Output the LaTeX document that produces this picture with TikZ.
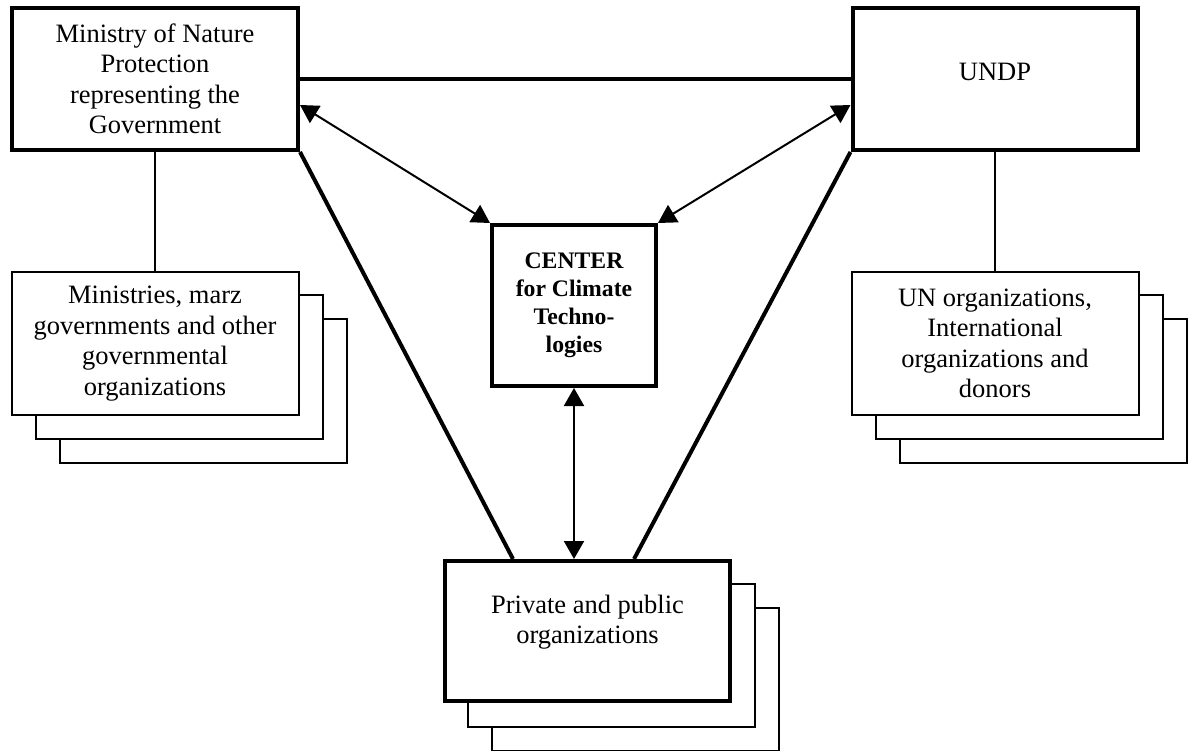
\documentclass[tikz,border=0pt]{standalone}
\usepackage{fontspec}
\setmainfont{Liberation Serif}
\usetikzlibrary{arrows.meta,calc}
\begin{document}
\begin{tikzpicture}[x=1pt,y=-1pt,
  txt/.style={font=\fontsize{26.5}{30.5}\selectfont,align=center,inner sep=0pt},
  thickbox/.style={draw,line width=4pt,fill=white,inner sep=0pt,minimum width=286pt,minimum height=142pt,txt},
  thinbox/.style={draw,line width=2pt,fill=white,inner sep=0pt,minimum width=287pt,minimum height=143pt,txt},
  centerbox/.style={draw,line width=4pt,fill=white,inner sep=0pt,minimum width=164pt,minimum height=161pt,align=center,font=\fontsize{23.7}{28}\selectfont\bfseries},
  thickline/.style={line width=4pt},
  thinline/.style={line width=2pt},
  dblarrow/.style={line width=2pt,{Triangle[length=18pt,width=20pt]}-{Triangle[length=18pt,width=20pt]}}
]
\useasboundingbox (0,0) rectangle (1189,751);
\fill[white] (0,0) rectangle (1189,751);

% top boxes
\node[thickbox] (ministry) at (155,79) {Ministry of Nature\\Protection\\representing the\\Government};
\node[thickbox,minimum width=285pt] (undp) at (995,79) {};
\node[txt] (undptext) at (995,72) {UNDP};

% left stack
\node[thinbox] (min3) at (203,391) {};
\node[thinbox] (min2) at (179,367) {};
\node[thinbox] (min1) at (155,343.5) {Ministries, marz\\governments and other\\governmental\\organizations};

% right stack
\node[thinbox] (un3) at (1043,391) {};
\node[thinbox] (un2) at (1019,367) {};
\node[thinbox] (un1) at (995,343.5) {UN organizations,\\International\\organizations and\\donors};

% bottom stack
\node[thinbox] (priv3) at (635.5,679) {};
\node[thinbox] (priv2) at (611.5,655) {};
\node[thickbox,minimum width=285pt,minimum height=140pt] (priv) at (587.5,631) {};
\node[txt] (privtext) at (587.5,622) {Private and public\\organizations};

% center
\node[centerbox] (center) at (574,305.5) {CENTER\\for Climate\\Techno-\\logies};

% connectors
\draw[thickline] (ministry.east) -- (undp.west);
\draw[thinline] (ministry.south) -- (min1.north);
\draw[thinline] (undp.south) -- (un1.north);

\coordinate (pl) at ($(priv.north west)+(70,0)$);
\coordinate (pr) at ($(priv.north west)+(191,0)$);
\draw[thickline] (ministry.south east) -- (pl);
\draw[thickline] (undp.south west) -- (pr);

\coordinate (ma) at ($(ministry.south east)+(0,-47)$);
\coordinate (ua) at ($(undp.south west)+(0,-47)$);
\draw[dblarrow] (ma) -- (center.north west);
\draw[dblarrow] (ua) -- (center.north east);
\draw[dblarrow] (center.south) -- (center.south |- priv.north);
\end{tikzpicture}
\end{document}
